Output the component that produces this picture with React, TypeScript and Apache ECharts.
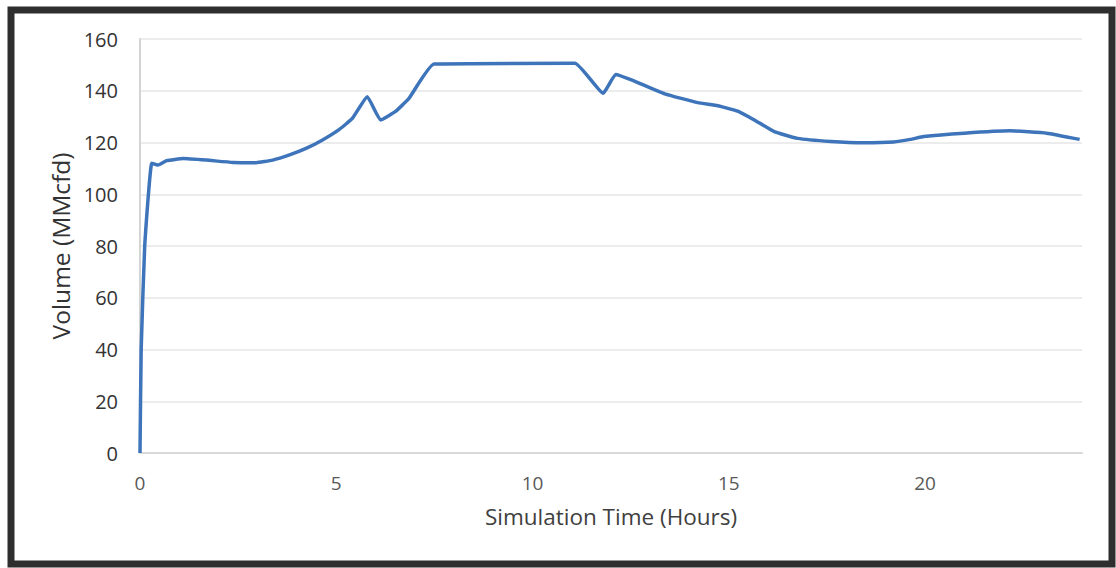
import React, { useEffect, useRef } from "react";
import * as echarts from "echarts";

const times: number[] = [0, 0.03, 0.12, 0.3, 0.46, 0.68, 1.1, 1.69, 2.37, 2.96, 3.38, 3.81, 4.23, 4.65, 5.08, 5.41, 5.79, 6.13, 6.51, 6.85, 7.49, 11.08, 11.8, 12.12, 12.52, 13.37, 14.21, 14.72, 15.23, 15.65, 16.16, 16.75, 17.6, 18.44, 19.2, 19.63, 19.97, 21, 22.16, 23.1, 23.94];
const volumes: number[] = [0, 40, 80, 112, 111.3, 113, 113.8, 113.2, 112.3, 112.2, 113.2, 115.2, 117.7, 121, 125.1, 129.3, 137.7, 128.7, 132, 137, 150.3, 150.6, 139, 146.3, 144.2, 138.8, 135.4, 134.2, 132.1, 128.7, 124.2, 121.6, 120.4, 119.9, 120.2, 121.2, 122.3, 123.6, 124.5, 123.6, 121.2];
const yTicks = { min: 0, max: 160, interval: 20 };
const xTicks = { min: 0, max: 24, interval: 5 };

export default function App() {
  const ref = useRef<HTMLDivElement>(null);
  useEffect(() => {
    if (!ref.current) return;
    const chart = echarts.init(ref.current, null, { renderer: "svg" });
    const font = "'Open Sans', 'Liberation Sans', sans-serif";
    chart.setOption({
      animation: false,
      backgroundColor: "#ffffff",
      grid: { left: 140, right: 34, top: 39, bottom: 115 },
      graphic: [
        {
          type: "rect",
          shape: { x: 11, y: 10, width: 1101, height: 554 },
          style: { fill: "none", stroke: "#2e2e2e", lineWidth: 7 },
          silent: true,
        },
      ],
      xAxis: {
        type: "value",
        min: xTicks.min,
        max: xTicks.max,
        interval: xTicks.interval,
        name: "Simulation Time (Hours)",
        nameLocation: "middle",
        nameGap: 52,
        nameTextStyle: { fontFamily: font, fontSize: 22.5, color: "#404040" },
        axisLine: { show: true, lineStyle: { color: "#d9d9d9", width: 2 } },
        axisTick: { show: false },
        splitLine: { show: false },
        axisLabel: {
          showMaxLabel: false,
          margin: 20,
          fontFamily: font,
          fontSize: 19,
          color: "#595959",
        },
      },
      yAxis: {
        type: "value",
        min: yTicks.min,
        max: yTicks.max,
        interval: yTicks.interval,
        name: "Volume (MMcfd)",
        nameLocation: "middle",
        nameGap: 64,
        nameTextStyle: { fontFamily: font, fontSize: 24.5, color: "#333333" },
        axisLine: { show: true, lineStyle: { color: "#d4d4d4", width: 2 } },
        axisTick: { show: false },
        splitLine: { show: true, lineStyle: { color: "#ececec", width: 2 } },
        axisLabel: {
          margin: 22,
          fontFamily: font,
          fontSize: 20,
          color: "#333333",
        },
      },
      series: [
        {
          type: "line",
          data: times.map((t, i) => [t, volumes[i]]),
          showSymbol: false,
          smooth: 0.12,
          lineStyle: { color: "#3d74ba", width: 3.5, join: "round" },
        },
      ],
    });
    return () => chart.dispose();
  }, []);
  return (
    <div
      ref={ref}
      style={{ position: "fixed", left: 0, top: 0, width: 1116, height: 568 }}
    />
  );
}
